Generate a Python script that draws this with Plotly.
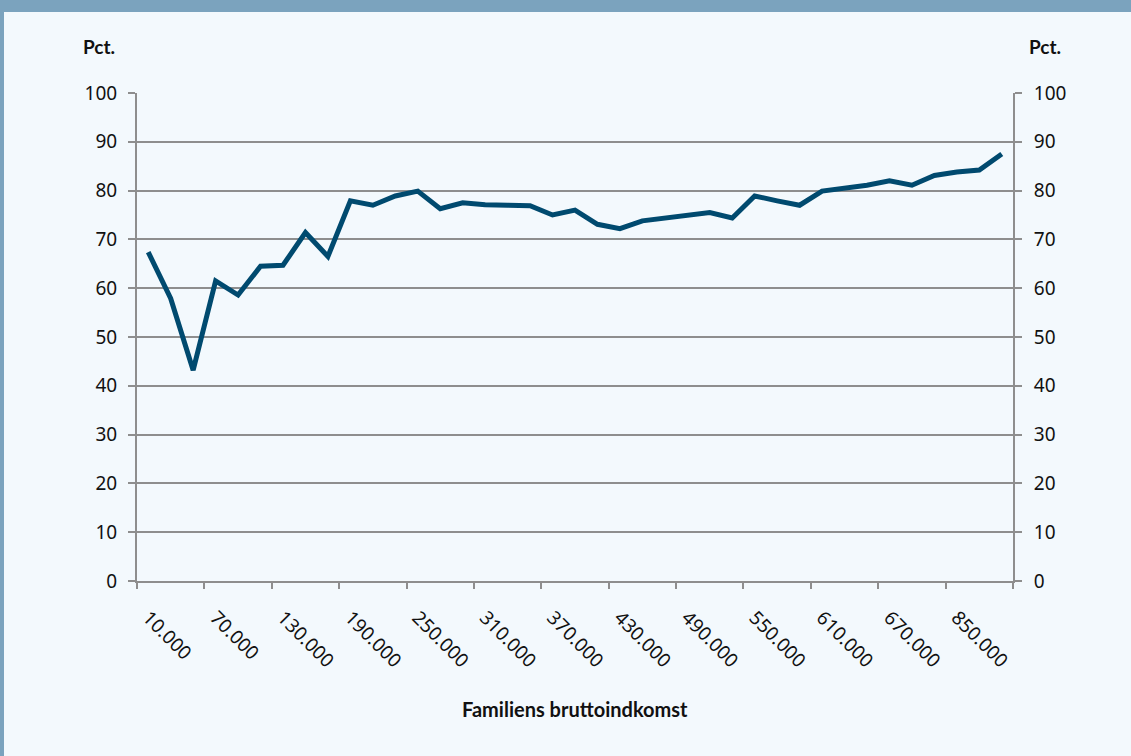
import plotly.graph_objects as go

# Categories: family gross income (DKK)
income = ["10.000", "30.000", "50.000", "70.000", "90.000", "110.000", "130.000",
          "150.000", "170.000", "190.000", "210.000", "230.000", "250.000", "270.000",
          "290.000", "310.000", "330.000", "350.000", "370.000", "390.000", "410.000",
          "430.000", "450.000", "470.000", "490.000", "510.000", "530.000", "550.000",
          "570.000", "590.000", "610.000", "630.000", "650.000", "670.000", "690.000",
          "750.000", "850.000", "950.000", "1.000.000+"]

pct = [67.4, 57.9, 43.2, 61.5, 58.6, 64.5, 64.7, 71.4, 66.5, 77.9,
       77.0, 78.9, 79.9, 76.3, 77.5, 77.1, 77.0, 76.9, 75.0, 76.0,
       73.1, 72.2, 73.8, 74.3, 74.9, 75.5, 74.4, 78.9, 77.9, 77.0,
       79.9, 80.5, 81.1, 82.0, 81.1, 83.1, 83.8, 84.2, 87.5]

y_ticks = [0, 10, 20, 30, 40, 50, 60, 70, 80, 90, 100]

BG = "#F3F9FD"
BORDER = "#7BA3BE"
LINE = "#004A6F"
GRID = "#8E8E8E"
TICKFONT = dict(family="Noto Sans", size=19, color="#111111")

W, H = 1131, 756
pl, pr, pt, pb = 137, 118, 93, 175
pw, ph = W - pl - pr, H - pt - pb


def px_x(x):
    return (x - pl) / pw


def px_y(y):
    return (H - pb - y) / ph


fig = go.Figure()
fig.add_trace(go.Scatter(x=income, y=pct, mode="lines",
                         line=dict(color=LINE, width=5), hoverinfo="skip",
                         showlegend=False))
# invisible trace to carry the right-hand axis
fig.add_trace(go.Scatter(x=income, y=pct, mode="lines", yaxis="y2",
                         line=dict(color="rgba(0,0,0,0)", width=0), hoverinfo="skip",
                         showlegend=False))

fig.update_layout(
    width=W, height=H,
    paper_bgcolor=BG, plot_bgcolor=BG,
    margin=dict(l=pl, r=pr, t=pt, b=pb, autoexpand=False),
    xaxis=dict(type="category", tickmode="linear", tick0=0, dtick=3,
               tickson="boundaries", ticks="outside", ticklen=6, tickwidth=1.5,
               tickcolor=GRID, showgrid=False, showline=True, linecolor=GRID,
               linewidth=2, tickangle=45, tickfont=TICKFONT,
               ticklabelstandoff=16, range=[-0.5, len(income) - 0.5],
               zeroline=False, automargin=False),
    yaxis=dict(range=[0, 100], tickvals=y_ticks, ticks="outside", ticklen=7,
               tickwidth=1.5, tickcolor=GRID, showgrid=True, gridcolor=GRID,
               gridwidth=1.5, showline=True, linecolor=GRID, linewidth=2,
               tickfont=TICKFONT, ticklabelstandoff=7, zeroline=False,
               automargin=False),
    yaxis2=dict(range=[0, 100], tickvals=y_ticks, ticks="outside", ticklen=7,
                tickwidth=1.5, tickcolor=GRID, overlaying="y", side="right",
                showgrid=False, showline=True, linecolor=GRID, linewidth=2,
                tickfont=TICKFONT, ticklabelstandoff=8, zeroline=False,
                automargin=False),
    shapes=[
        dict(type="rect", xref="paper", yref="paper", x0=px_x(-5), x1=px_x(W + 5),
             y0=px_y(12), y1=px_y(-5), fillcolor=BORDER, line=dict(width=0),
             layer="above"),
        dict(type="rect", xref="paper", yref="paper", x0=px_x(-5), x1=px_x(4),
             y0=px_y(H + 5), y1=px_y(-5), fillcolor=BORDER, line=dict(width=0),
             layer="above"),
    ],
)

fig.add_annotation(text="<b>Pct.</b>", xref="paper", yref="paper",
                   x=px_x(99), y=px_y(46), xanchor="center", yanchor="middle",
                   showarrow=False, font=dict(family="Lato", size=19, color="#111111"))
fig.add_annotation(text="<b>Pct.</b>", xref="paper", yref="paper",
                   x=px_x(1045), y=px_y(46), xanchor="center", yanchor="middle",
                   showarrow=False, font=dict(family="Lato", size=19, color="#111111"))
fig.add_annotation(text="<b>Familiens bruttoindkomst</b>", xref="paper", yref="paper",
                   x=0.5, y=px_y(709), xanchor="center", yanchor="middle",
                   showarrow=False, font=dict(family="Lato", size=20, color="#111111"))

fig.write_html(
    "out.html",
    config={"displayModeBar": False},
    post_script="document.body.style.margin='0';document.body.style.overflow='hidden';"
                "document.body.style.background='" + BG + "';",
)
